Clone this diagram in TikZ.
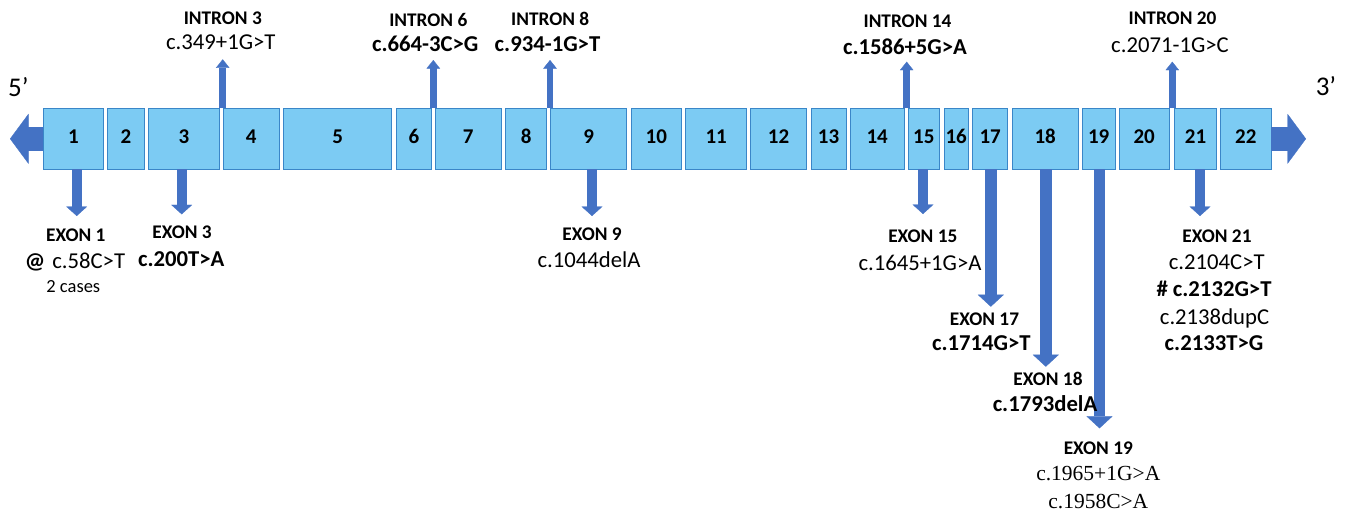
\documentclass[tikz,border=0pt]{standalone}
\usepackage{fontspec}
\setmainfont{Carlito}
\newfontfamily\tnr{Liberation Serif}
\usetikzlibrary{arrows.meta}
\definecolor{exfill}{HTML}{7CCBF3}
\definecolor{exdraw}{HTML}{3A86C8}
\definecolor{arr}{HTML}{4472C4}
\begin{document}
\begin{tikzpicture}[x=1pt,y=-1pt,
  exon/.style={draw=exdraw, fill=exfill, line width=1pt, minimum height=61pt,
    inner sep=0pt, outer sep=0pt, text height=9.4pt, text depth=0pt,
    font=\bfseries\fontsize{21}{24}\selectfont},
  dnarr/.style={draw=arr, line width=10pt, -{Triangle[width=21pt,length=9.5pt,line width=0.3pt]}},
  bigarr/.style={draw=arr, line width=11.5pt, -{Triangle[width=26pt,length=12pt,line width=0.3pt]}},
  uparr/.style={draw=arr, line width=6.5pt, -{Triangle[width=13.5pt,length=8.5pt,line width=0.3pt]}},
  endarr/.style={draw=arr, line width=24pt, -{Triangle[width=50pt,length=18.5pt,line width=0.3pt]}},
  lab/.style={anchor=base, text=black, inner sep=0pt},
  hb/.style={lab, font=\bfseries\fontsize{19.3}{22}\selectfont},
  vr/.style={lab, font=\fontsize{22.7}{26}\selectfont},
  vb/.style={lab, font=\bfseries\fontsize{22.7}{26}\selectfont},
  vs/.style={lab, font=\tnr\fontsize{21.5}{25}\selectfont},
  sm/.style={lab, font=\fontsize{18.5}{21}\selectfont},
  endlab/.style={lab, font=\fontsize{27}{30}\selectfont}]
\useasboundingbox (0,0) rectangle (1346,512);

% exon boxes
\foreach \n/\l/\r in {1/43.3/103.7, 2/107.7/144.3, 3/148.3/219.7, 4/223/279.3,
  5/283.7/391.7, 6/396/431.7, 7/435.3/501.3, 8/505.7/546.7, 9/550.7/626.7,
  10/631/681.7, 11/685.7/746.7, 12/750.3/806.7, 13/811/846, 14/850/904.3,
  15/908.3/939.3, 16/944/968.3, 17/972.7/1007.7, 18/1012/1078.3,
  19/1082.3/1115, 20/1119/1169.3, 21/1174.3/1216.7, 22/1220.7/1271} {
  \pgfmathsetmacro\w{\r-\l}
  \pgfmathsetmacro\c{(\l+\r)/2}
  \node[exon, minimum width=\w pt] (e\n) at (\c,138.8) {\n};
}

% end arrows
\coordinate (lt) at (10,138.8);
\coordinate (rt) at (1306,138.8);
\draw[endarr] (e1.west) -- (lt);
\draw[endarr] (e22.east) -- (rt);

% intron arrows
\coordinate (i3) at (222.7,59.3);
\coordinate (i6) at (433.3,60);
\coordinate (i8) at (550,60);
\coordinate (i14) at (906.7,61.7);
\coordinate (i20) at (1172.3,61.7);
\draw[uparr] (i3 |- e3.north) -- (i3);
\draw[uparr] (i6 |- e6.north) -- (i6);
\draw[uparr] (i8 |- e8.north) -- (i8);
\draw[uparr] (i14 |- e14.north) -- (i14);
\draw[uparr] (i20 |- e20.north) -- (i20);

% exon arrows
\coordinate (d1) at (76.7,216);
\coordinate (d3) at (181.7,214.3);
\coordinate (d9) at (592,216);
\coordinate (d15) at (923,214);
\coordinate (d17) at (990.8,306.7);
\coordinate (d18) at (1045.8,366.7);
\coordinate (d19) at (1099.5,428.3);
\coordinate (d21) at (1200,216);
\draw[dnarr] (d1 |- e1.south) -- (d1);
\draw[dnarr] (d3 |- e3.south) -- (d3);
\draw[dnarr] (d9 |- e9.south) -- (d9);
\draw[dnarr] (d15 |- e15.south) -- (d15);
\draw[bigarr] (d17 |- e17.south) -- (d17);
\draw[bigarr] (d18 |- e18.south) -- (d18);
\draw[bigarr] (d19 |- e19.south) -- (d19);
\draw[dnarr] (d21 |- e21.south) -- (d21);

% end labels
\node[endlab] (p5) at (18.3,96.5) {5’};
\node[endlab] (p3) at (1326,95.5) {3’};

% intron labels
\node[hb] (ti3) at (222.8,24) {INTRON 3};
\node[vr] (vi3) at (220.8,49.6) {c.349+1G>T};
\node[hb] (ti6) at (428.3,26) {INTRON 6};
\node[vb] (vi6) at (425.3,51.3) {c.664-3C>G};
\node[hb] (ti8) at (550.2,25.8) {INTRON 8};
\node[vb] (vi8) at (547.5,51.3) {c.934-1G>T};
\node[hb] (ti14) at (907.5,27) {INTRON 14};
\node[vb] (vi14) at (905,54.6) {c.1586+5G>A};
\node[hb] (ti20) at (1172.5,24.5) {INTRON 20};
\node[vr] (vi20) at (1170,52.9) {c.2071-1G>C};

% exon labels
\node[hb] (tx1) at (75.8,241) {EXON 1};
\node[vr] (vx1) at (75,268.3) {\textbf{@}\hspace{7pt}c.58C>T};
\node[sm] (cx1) at (73.3,292.3) {2 cases};
\node[hb] (tx3) at (182,238.3) {EXON 3};
\node[vb] (vx3) at (181.3,266) {c.200T>A};
\node[hb] (tx9) at (592,240.7) {EXON 9};
\node[vr] (vx9) at (589,267.7) {c.1044delA};
\node[hb] (tx15) at (922.8,242.7) {EXON 15};
\node[vr] (vx15) at (920,270) {c.1645+1G>A};
\node[hb] (tx17) at (984.5,325) {EXON 17};
\node[vb] (vx17) at (981.3,350) {c.1714G>T};
\node[hb] (tx18) at (1048,385) {EXON 18};
\node[vb] (vx18) at (1045,411.7) {c.1793delA};
\node[hb] (tx19) at (1098.3,454) {EXON 19};
\node[vs] (vx19a) at (1098.3,480) {c.1965+1G>A};
\node[vs] (vx19b) at (1098.3,508.3) {c.1958C>A};
\node[hb] (tx21) at (1217,242.7) {EXON 21};
\node[vr] (vx21a) at (1216.7,269) {c.2104C>T};
\node[vb] (vx21b) at (1214,296.7) {\# c.2132G>T};
\node[vr] (vx21c) at (1214.5,324) {c.2138dupC};
\node[vb] (vx21d) at (1214,350.7) {c.2133T>G};
\end{tikzpicture}
\end{document}
